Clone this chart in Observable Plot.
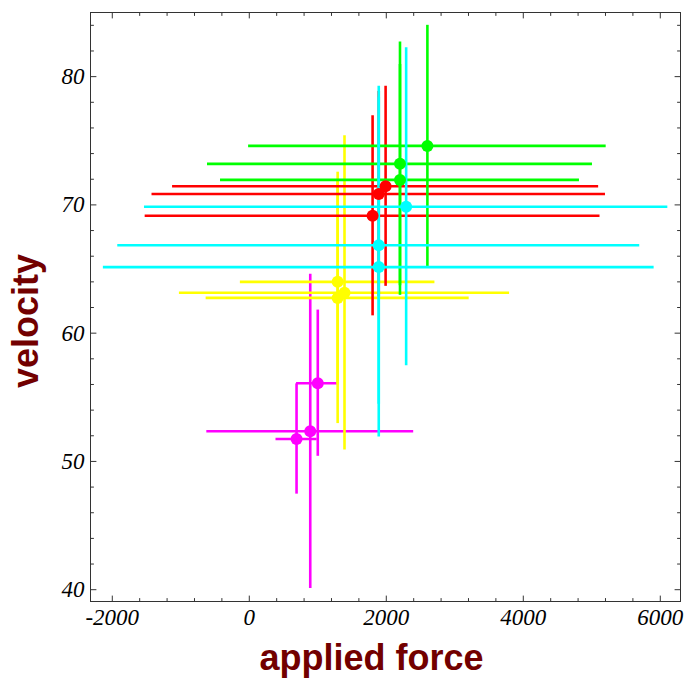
<!DOCTYPE html>
<html>
<head>
<meta charset="utf-8">
<script src="https://cdn.jsdelivr.net/npm/d3@7"></script>
<script src="https://cdn.jsdelivr.net/npm/@observablehq/plot@0.6"></script>
<style>
  html, body { margin: 0; padding: 0; background: #ffffff; }
  #chart svg { display: block; }
</style>
</head>
<body>
<div id="chart"></div>
<script>
// Measurement groups, drawn in this order (later groups sit on top)
const groups      = ["magenta", "yellow", "red", "green", "cyan"];
const groupColors = ["#ff00ff", "#ffff00", "#ff0000", "#00ff00", "#00ffff"];

// One entry per measurement: group, applied force ± error, velocity ± error
const pointGroup  = ["green", "green", "green",
                     "red", "red", "red",
                     "cyan", "cyan", "cyan",
                     "yellow", "yellow", "yellow",
                     "magenta", "magenta", "magenta"];
const force       = [2600, 2200, 2200,  1990, 1890, 1800,  2290, 1890, 1890,  1290, 1390, 1290,  1000, 890, 690];
const forceErr    = [2610, 2810, 2620,  3110, 3310, 3320,  3820, 3810, 4020,  1420, 2410, 1920,   310, 1510, 300];
const velocity    = [74.6, 73.2, 71.95, 71.45, 70.85, 69.15, 69.85, 66.85, 65.15, 64.0, 63.15, 62.75, 56.1, 52.35, 51.75];
const velocityErr = [9.4, 9.5, 9.0,     7.8, 8.0, 7.8,      12.4, 12.4, 13.25,   8.0, 12.25, 9.8,    5.7, 12.25, 4.3];

// Axis ticks
const xMajor = [-2000, 0, 2000, 4000, 6000];
const yMajor = [40, 50, 60, 70, 80];
const xMinor = d3.range(-2000, 6001, 400).filter(v => !xMajor.includes(v));
const yMinor = d3.range(40, 85, 2).filter(v => !yMajor.includes(v));

const xDomain = [-2318, 6295];
const yDomain = [39.08, 85];

const rows = force.map((f, i) => ({
  group: pointGroup[i],
  color: groupColors[groups.indexOf(pointGroup[i])],
  x: f, xe: forceErr[i],
  y: velocity[i], ye: velocityErr[i]
}));

// A straight tick line for the vector mark (points "up" before rotation)
const tickShape = { draw(context, l) { context.moveTo(0, 0); context.lineTo(0, -l); } };
const tickStyle = { stroke: "#333", strokeWidth: 1, shape: tickShape, anchor: "start" };
const frameTicks = (values, len) => [
  Plot.vector(values.x, { x: d => d, frameAnchor: "bottom", rotate: 0,   length: len, ...tickStyle }),
  Plot.vector(values.x, { x: d => d, frameAnchor: "top",    rotate: 180, length: len, ...tickStyle }),
  Plot.vector(values.y, { y: d => d, frameAnchor: "left",   rotate: 90,  length: len, ...tickStyle }),
  Plot.vector(values.y, { y: d => d, frameAnchor: "right",  rotate: -90, length: len, ...tickStyle })
];

const barMarks = groups.flatMap(g => {
  const sub = rows.filter(d => d.group === g);
  return [
    Plot.ruleY(sub, { y: "y", x1: d => d.x - d.xe, x2: d => d.x + d.xe, stroke: "color", strokeWidth: 2.6, strokeLinecap: "butt" }),
    Plot.ruleX(sub, { x: "x", y1: d => d.y - d.ye, y2: d => d.y + d.ye, stroke: "color", strokeWidth: 2.6, strokeLinecap: "butt" })
  ];
});

const tickFont = { fontFamily: "Liberation Serif, Times New Roman, serif", fontStyle: "italic", fontSize: 23, fill: "#000" };
const titleFont = { fontFamily: "Liberation Sans, Arial, sans-serif", fontWeight: "bold", fontSize: 36, fill: "#720000" };

const chart = Plot.plot({
  width: 687,
  height: 679,
  marginLeft: 90,
  marginRight: 7,
  marginTop: 12,
  marginBottom: 78,
  style: { background: "#ffffff", overflow: "visible" },
  x: { domain: xDomain },
  y: { domain: yDomain },
  marks: [
    ...barMarks,
    Plot.dot(rows, { x: "x", y: "y", r: 6, fill: "color", stroke: "none" }),
    Plot.frame({ stroke: "#333", strokeWidth: 1 }),
    ...frameTicks({ x: xMajor, y: yMajor }, 5.5),
    ...frameTicks({ x: xMinor, y: yMinor }, 3),
    Plot.axisX(xMajor, { tickSize: 0, tickPadding: 7, tickFormat: d => String(d), label: null, ...tickFont }),
    Plot.axisY(yMajor, { tickSize: 0, tickPadding: 6, tickFormat: d => String(d), label: null, ...tickFont }),
    Plot.text(["applied force"], { frameAnchor: "bottom", textAnchor: "middle", dx: -14, dy: 68, text: d => d, ...titleFont }),
    Plot.text(["velocity"], { frameAnchor: "left", textAnchor: "middle", dx: -64, dy: 14, rotate: -90, text: d => d, ...titleFont })
  ]
});

document.getElementById("chart").append(chart);
</script>
</body>
</html>
